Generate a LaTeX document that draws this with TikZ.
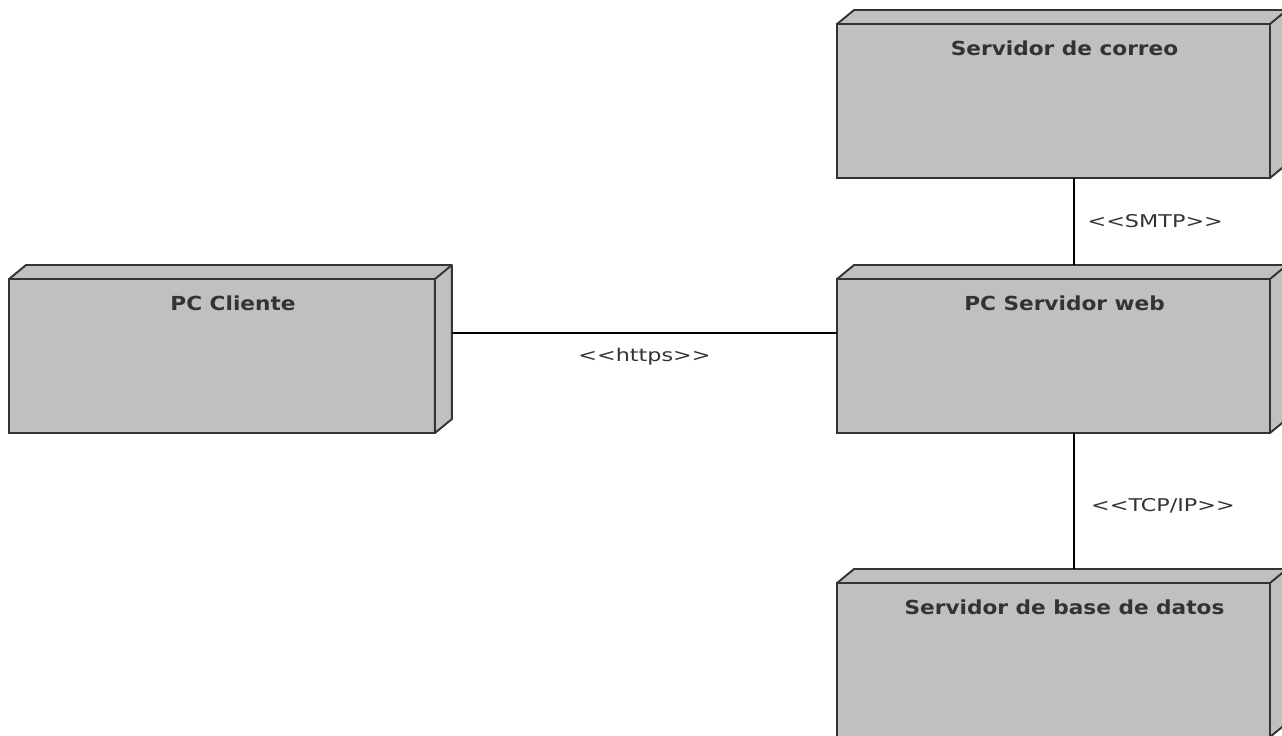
\documentclass[tikz,border=0pt]{standalone}
\usepackage{fontspec}
\newfontfamily\nodofont[FakeStretch=1.12]{DejaVu Sans}
\newfontfamily\etiqfont[FakeStretch=1.27]{DejaVu Sans}
\definecolor{nodogris}{HTML}{C0C0C0}
\definecolor{borde}{HTML}{333333}
\tikzset{
  nodo/.style={draw=borde, fill=nodogris, line width=1.1pt, outer sep=0pt, inner sep=0pt,
    minimum width=8.66cm, minimum height=3.08cm},
  titulo/.style={font=\nodofont\bfseries\fontsize{11}{13}\selectfont, text=borde, inner sep=0pt,
    anchor=north, yshift=-0.32cm, xshift=0.22cm},
  etiqueta/.style={font=\etiqfont\fontsize{10}{12}\selectfont, text=borde},
  enlace/.style={line width=0.8pt}
}
\begin{document}
\begin{tikzpicture}[x=0.02cm, y=-0.02cm]
	\useasboundingbox (0,0) rectangle (1282,735);

	% Nodos
	\node[nodo, minimum width=8.52cm, label={[titulo]north:PC Cliente}] (cliente) at (222,356) {};
	\node[nodo, label={[titulo]north:Servidor de correo}] (correo) at (1053.5,101) {};
	\node[nodo, label={[titulo]north:PC Servidor web}] (web) at (1053.5,356) {};
	\node[nodo, label={[titulo]north:Servidor de base de datos}] (datos) at (1053.5,660) {};

	% Caras de profundidad
	\foreach \n in {cliente,correo,web,datos}{
		\filldraw[fill=nodogris, draw=borde, line width=1.1pt, line join=round]
			(\n.north west) -- ++(17,-14) -- ([shift={(17,-14)}]\n.north east)
			-- ([shift={(17,-14)}]\n.south east) -- (\n.south east) -- (\n.north east) -- cycle;
		\draw[borde, line width=1.1pt] (\n.north east) -- ++(17,-14);
	}

	% Enlaces
	\draw[enlace] ([shift={(17,-23)}]cliente.east) -- node[etiqueta, below=5pt] {<{}<https>{}>} ([shift={(0,-23)}]web.west);
	\draw[enlace] ([shift={(20.5,0)}]correo.south) -- node[etiqueta, right=4pt] {<{}<SMTP>{}>} ([shift={(20.5,-14)}]web.north);
	\draw[enlace] ([shift={(20.5,0)}]web.south) -- node[etiqueta, right=6pt, yshift=-3pt] {<{}<TCP/IP>{}>} ([shift={(20.5,-14)}]datos.north);
\end{tikzpicture}
\end{document}
